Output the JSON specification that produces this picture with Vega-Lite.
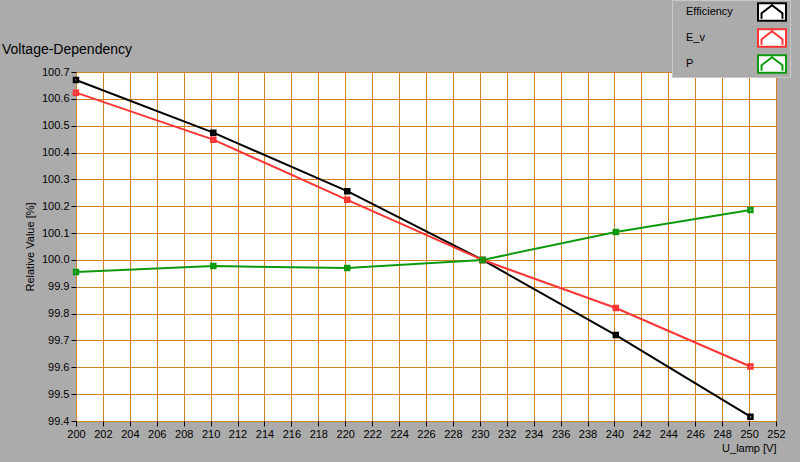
{
  "$schema": "https://vega.github.io/schema/vega-lite/v6.json",
  "width": 700,
  "height": 349,
  "autosize": {"type": "none"},
  "padding": {"left": 76, "top": 72, "right": 24, "bottom": 41},
  "background": "#ababab",
  "title": {"text": "Voltage-Dependency", "anchor": "start", "frame": "group", "dx": -74, "offset": -57, "font": "Liberation Sans", "fontSize": 14, "fontWeight": "normal", "color": "#000000"},
  "config": {
    "view": {"fill": "#ffffff", "stroke": "#7a7a7a", "strokeWidth": 1},
    "axis": {"labelFont": "Liberation Sans", "labelFontSize": 11, "labelColor": "#000000", "titleFont": "Liberation Sans", "titleFontSize": 11, "titleFontWeight": "normal", "titleColor": "#000000", "tickColor": "#000000", "tickSize": 5, "domain": false, "gridColor": "#d4801e", "gridOpacity": 1, "gridWidth": 1, "labelOverlap": false, "labelFlush": false}
  },
  "data": {"values": [
    {"u": 200.0, "v": 100.67, "s": "Efficiency"},
    {"u": 210.2, "v": 100.474, "s": "Efficiency"},
    {"u": 220.15, "v": 100.256, "s": "Efficiency"},
    {"u": 230.2, "v": 100.0, "s": "Efficiency"},
    {"u": 240.1, "v": 99.72, "s": "Efficiency"},
    {"u": 250.1, "v": 99.416, "s": "Efficiency"},
    {"u": 200.0, "v": 100.623, "s": "E_v"},
    {"u": 210.2, "v": 100.448, "s": "E_v"},
    {"u": 220.15, "v": 100.224, "s": "E_v"},
    {"u": 230.2, "v": 100.0, "s": "E_v"},
    {"u": 240.1, "v": 99.821, "s": "E_v"},
    {"u": 250.1, "v": 99.603, "s": "E_v"},
    {"u": 200.0, "v": 99.955, "s": "P"},
    {"u": 210.2, "v": 99.977, "s": "P"},
    {"u": 220.15, "v": 99.97, "s": "P"},
    {"u": 230.2, "v": 100.0, "s": "P"},
    {"u": 240.1, "v": 100.104, "s": "P"},
    {"u": 250.1, "v": 100.186, "s": "P"}
  ]},
  "encoding": {
    "x": {"field": "u", "type": "quantitative", "title": "U_lamp [V]",
      "scale": {"domain": [200, 252], "nice": false, "zero": false},
      "axis": {"values": [200,202,204,206,208,210,212,214,216,218,220,222,224,226,228,230,232,234,236,238,240,242,244,246,248,250,252], "titleAnchor": "end", "titleAlign": "right", "titlePadding": 3, "labelPadding": 2}},
    "y": {"field": "v", "type": "quantitative", "title": "Relative Value [%]",
      "scale": {"domain": [99.4, 100.7], "nice": false, "zero": false},
      "axis": {"values": [99.4,99.5,99.6,99.7,99.8,99.9,100.0,100.1,100.2,100.3,100.4,100.5,100.6,100.7], "format": ".1f", "titlePadding": 6, "labelPadding": 2}},
    "stroke": {"field": "s", "type": "nominal", "title": null,
      "scale": {"domain": ["Efficiency", "E_v", "P"], "range": ["#000000", "#ff3535", "#0d990d"]},
      "legend": {"orient": "none", "legendX": 596, "legendY": -72, "fillColor": "#ababab", "strokeColor": "#c8c8c8", "padding": 0, "rowPadding": 0,
        "symbolType": "M-1.27,-0.8H1.27V0.8H-1.27Z M-0.95,0.62V0.12L0,-0.62L0.95,0.12V0.62", "symbolSize": 484, "symbolStrokeWidth": 2, "symbolFillColor": "#ffffff",
        "labelFont": "Liberation Sans", "labelFontSize": 11, "labelColor": "#000000", "labelAlign": "left", "labelOffset": -98, "symbolOffset": 88,
        "encode": {"symbols": {"update": {"fill": {"value": "#ffffff"}, "fillOpacity": {"value": 1}}}}}}
  },
  "layer": [
    {"mark": {"type": "line", "strokeWidth": 2}},
    {"mark": {"type": "square", "size": 16, "opacity": 1, "filled": false, "strokeWidth": 2.5}}
  ]
}
